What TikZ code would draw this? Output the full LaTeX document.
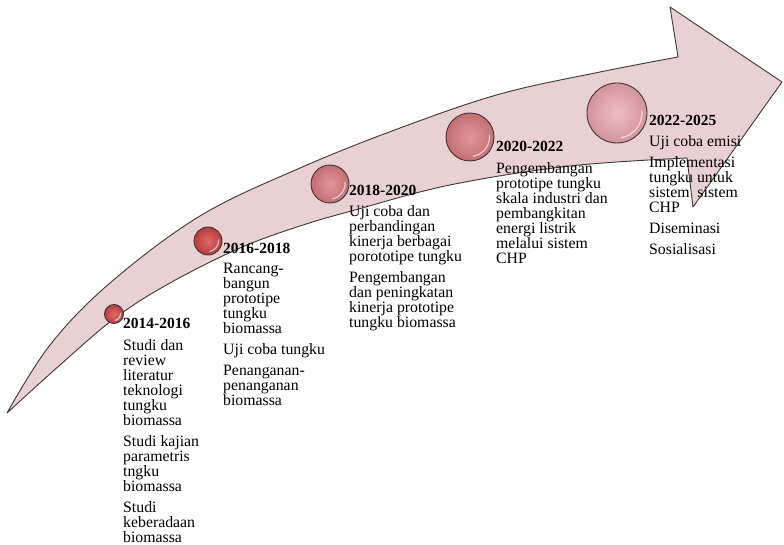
\documentclass[tikz,border=0pt]{standalone}
\usepackage{fontspec}
\setmainfont{Liberation Serif}
\newcommand\tightlines{\lineskiplimit=-10pt\relax}
\begin{document}
\begin{tikzpicture}[x=1pt,y=-1pt]
\definecolor{arrowfill}{RGB}{233,208,210}
\definecolor{edgecol}{RGB}{60,55,55}
\definecolor{redin}{RGB}{222,105,105}
\definecolor{redout}{RGB}{185,60,62}
\definecolor{pinkin}{RGB}{226,150,152}
\definecolor{pinkout}{RGB}{196,110,116}
\definecolor{lightin}{RGB}{238,190,194}
\definecolor{lightout}{RGB}{212,148,154}
\tikzset{
 milestone/.style={circle, draw=edgecol, line width=0.9pt, inner sep=0pt, minimum size=#1},
 yearlbl/.style={anchor=base west, inner sep=0pt, font=\fontsize{15.5}{15}\selectfont\bfseries},
 bodytxt/.style={anchor=north west, inner sep=0pt, align=left, font=\fontsize{15.8}{15}\selectfont\tightlines},
 gloss/.style={white, opacity=0.65, line width=1.2pt, line cap=round}
}
\useasboundingbox (0,0) rectangle (784,545);
\fill[white] (0,0) rectangle (784,545);
% arrow
\filldraw[fill=arrowfill, draw=edgecol, line width=0.9pt, line join=round]
 (7,413) -- plot[smooth, tension=0.6] coordinates {(7,413) (50,345) (110,283) (200,216) (300,168) (400,128) (500,94) (600,72) (678,57)}
 -- (670,7) -- (782,82) -- (693,207) -- (687,158)
 -- plot[smooth, tension=0.6] coordinates {(687,158) (570,166) (450,185) (355,210) (300,226) (240,248) (170,283) (115,318) (60,365) (7,413)}
 -- cycle;
% milestones
\node[milestone=19pt, inner color=redin, outer color=redout] (c1) at (114,314) {};
\node[milestone=28pt, inner color=redin, outer color=redout] (c2) at (208,241) {};
\node[milestone=38pt, inner color=pinkin, outer color=pinkout] (c3) at (330,184) {};
\node[milestone=48pt, inner color=pinkin, outer color=pinkout] (c4) at (470,137) {};
\node[milestone=60pt, inner color=lightin, outer color=lightout] (c5) at (617,113) {};
\draw[gloss] (c1.center) ++(80:6.5) arc[start angle=80, end angle=-5, radius=6.5];
\draw[gloss] (c2.center) ++(80:10.5) arc[start angle=80, end angle=-5, radius=10.5];
\draw[gloss] (c3.center) ++(80:15) arc[start angle=80, end angle=-5, radius=15];
\draw[gloss] (c4.center) ++(80:19.5) arc[start angle=80, end angle=-5, radius=19.5];
\draw[gloss] (c5.center) ++(80:25) arc[start angle=80, end angle=-5, radius=25];
% group 1
\node[yearlbl] (y1) at (123,328) {2014-2016};
\node[bodytxt] (t1) at (123,339) {\strut Studi dan\\review\\literatur\\teknologi\\tungku\\biomassa\\[6pt]Studi kajian\\parametris\\tngku\\biomassa\\[6pt]Studi\\keberadaan\\biomassa};
% group 2
\node[yearlbl] (y2) at (223,254) {2016-2018};
\node[bodytxt] (t2) at (223,263) {\strut Rancang-\\bangun\\prototipe\\tungku\\biomassa\\[6pt]Uji coba tungku\\[6pt]Penanganan-\\penanganan\\biomassa};
% group 3
\node[yearlbl] (y3) at (349,196) {2018-2020};
\node[bodytxt] (t3) at (349,205) {\strut Uji coba dan\\perbandingan\\kinerja berbagai\\porototipe tungku\\[6pt]Pengembangan\\dan peningkatan\\kinerja prototipe\\tungku biomassa};
% group 4
\node[yearlbl] (y4) at (496,152) {2020-2022};
\node[bodytxt] (t4) at (496,162) {\strut Pengembangan\\prototipe tungku\\skala industri dan\\pembangkitan\\energi listrik\\melalui sistem\\CHP};
% group 5
\node[yearlbl] (y5) at (649,126) {2022-2025};
\node[bodytxt] (t5) at (649,135) {\strut Uji coba emisi\\[6pt]Implementasi\\tungku untuk\\sistem~ sistem\\CHP\\[6pt]Diseminasi\\[6pt]Sosialisasi};
\end{tikzpicture}
\end{document}
